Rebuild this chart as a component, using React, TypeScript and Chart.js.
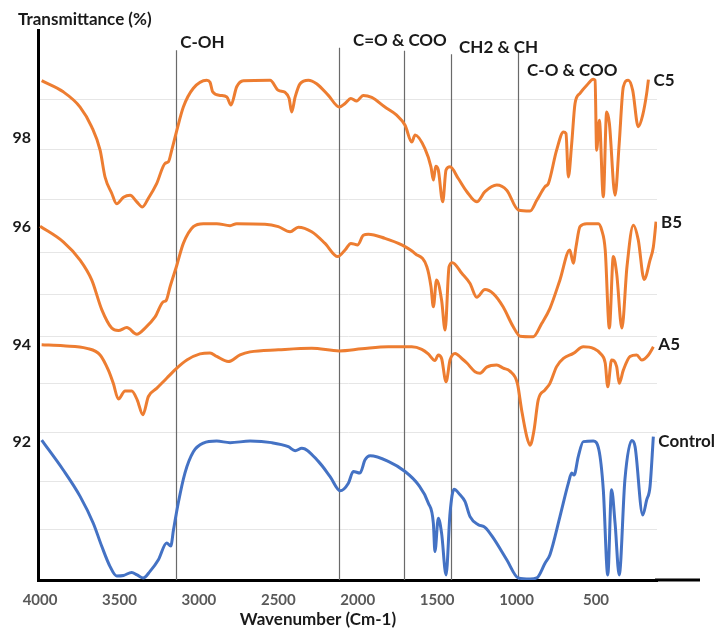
import React, { useEffect, useRef } from 'react';
import { Chart, registerables } from 'chart.js';

Chart.register(...registerables);

const ORANGE = '#ED7D31';
const BLUE = '#4472C4';

// x axis (wavenumber, cm-1) and y axis (transmittance, %)
const X_MIN = 116;
const X_MAX = 4013;
const Y_MIN = 89.27;
const Y_MAX = 100.12;
const xTickValues = [4000, 3500, 3000, 2500, 2000, 1500, 1000, 500];
const yTickValues = [98, 96.24, 93.91, 92];
const yTickLabels = ['98', '96', '94', '92'];
const yGridValues = [98.75, 97.76, 96.78, 95.73, 94.91, 94.07, 93.15, 92.17, 91.21, 90.26];

// band markers
const bandLines = [3144, 2116, 1711, 1415, 989];
const bandLineTops = [99.72, 99.77, 99.71, 99.64, 99.72];
const bandLabels = ['C-OH', 'C=O & COO', 'CH2 & CH', 'C-O & COO'];
const bandLabelX = [3118, 2030, 1362, 934];
const bandLabelY = [99.88, 99.92, 99.77, 99.33];

const seriesNames = ['C5', 'B5', 'A5', 'Control'];
const seriesLabelY = [99.12, 96.33, 93.91, 92.0];

const c5Points: [number, number][] = [
  [3990, 99.12], [3854, 98.9], [3748, 98.6], [3675, 98.21], [3622, 97.75], [3591, 97.22], [3549, 96.9],
  [3518, 96.69], [3475, 96.82], [3433, 96.86], [3391, 96.73], [3356, 96.63], [3318, 96.8], [3266, 97.09],
  [3213, 97.49], [3192, 97.52], [3171, 97.75], [3139, 98.14], [3098, 98.6], [3035, 98.97], [2951, 99.13],
  [2930, 99.09], [2913, 98.9], [2866, 98.83], [2824, 98.8], [2798, 98.64], [2762, 99.0], [2720, 99.12],
  [2552, 99.13], [2500, 98.93], [2458, 98.89], [2432, 98.77], [2416, 98.5], [2394, 98.8], [2363, 99.06],
  [2311, 99.13], [2259, 99.06], [2185, 98.83], [2116, 98.6], [2080, 98.67], [2043, 98.77], [2007, 98.72],
  [1965, 98.83], [1912, 98.79], [1829, 98.6], [1755, 98.44], [1702, 98.24], [1660, 97.91], [1639, 98.05],
  [1577, 97.78], [1539, 97.42], [1524, 97.16], [1509, 97.43], [1493, 97.36], [1465, 96.73], [1444, 97.36],
  [1419, 97.42], [1367, 97.19], [1313, 96.93], [1251, 96.73], [1199, 96.93], [1125, 97.06], [1062, 96.96],
  [989, 96.57], [915, 96.55], [873, 96.76], [821, 97.03], [800, 97.09], [748, 97.75], [705, 98.11],
  [689, 98.08], [674, 97.22], [653, 97.88], [632, 98.67], [601, 98.87], [558, 99.03], [517, 99.15],
  [506, 99.13], [496, 97.75], [479, 98.34], [454, 96.83], [433, 98.5], [416, 98.28], [380, 96.86],
  [354, 97.88], [328, 99.0], [297, 99.13], [269, 98.93], [234, 98.21], [206, 98.44], [181, 98.87], [170, 99.14],
];

const b5Points: [number, number][] = [
  [4000, 96.25], [3854, 95.94], [3748, 95.58], [3675, 95.19], [3611, 94.6], [3549, 94.24], [3507, 94.19],
  [3454, 94.25], [3391, 94.12], [3339, 94.24], [3276, 94.46], [3224, 94.76], [3207, 94.78], [3181, 95.06],
  [3139, 95.48], [3098, 95.91], [3035, 96.24], [2972, 96.3], [2888, 96.3], [2804, 96.26], [2762, 96.3],
  [2584, 96.29], [2500, 96.24], [2426, 96.14], [2374, 96.23], [2290, 96.14], [2206, 95.91], [2126, 95.65],
  [2080, 95.78], [2043, 95.91], [2000, 95.88], [1965, 96.07], [1933, 96.09], [1829, 96.01], [1723, 95.88],
  [1639, 95.71], [1565, 95.45], [1539, 95.06], [1524, 94.66], [1504, 95.19], [1472, 94.79], [1450, 94.2],
  [1425, 95.45], [1404, 95.53], [1345, 95.32], [1293, 95.12], [1251, 94.85], [1199, 95.0], [1147, 94.92],
  [1085, 94.66], [1022, 94.27], [978, 94.08], [895, 94.07], [842, 94.33], [790, 94.63], [727, 95.19],
  [665, 95.78], [643, 95.52], [626, 95.84], [601, 96.24], [558, 96.3], [485, 96.3], [464, 96.17],
  [442, 95.78], [416, 94.24], [391, 95.65], [370, 95.32], [337, 94.24], [305, 95.45], [265, 96.27],
  [234, 95.98], [197, 95.2], [160, 95.58], [139, 95.84], [122, 96.34],
];

const a5Points: [number, number][] = [
  [3990, 93.91], [3854, 93.89], [3706, 93.84], [3622, 93.71], [3570, 93.41], [3539, 93.15], [3507, 92.84],
  [3465, 93.0], [3423, 93.0], [3388, 92.82], [3353, 92.53], [3318, 92.89], [3266, 93.05], [3203, 93.25],
  [3139, 93.45], [3076, 93.61], [2993, 93.73], [2930, 93.75], [2888, 93.68], [2815, 93.58], [2741, 93.71],
  [2678, 93.77], [2500, 93.81], [2290, 93.84], [2116, 93.79], [1975, 93.83], [1808, 93.87], [1660, 93.87],
  [1597, 93.82], [1556, 93.73], [1514, 93.6], [1493, 93.71], [1472, 93.64], [1444, 93.18], [1419, 93.61],
  [1387, 93.74], [1345, 93.64], [1313, 93.55], [1262, 93.38], [1230, 93.35], [1188, 93.47], [1125, 93.51],
  [1084, 93.45], [1042, 93.39], [995, 93.15], [968, 92.62], [936, 92.1], [915, 91.93], [890, 92.23],
  [864, 92.82], [821, 93.02], [790, 93.15], [748, 93.48], [705, 93.64], [643, 93.74], [580, 93.87],
  [517, 93.84], [464, 93.71], [442, 93.55], [426, 93.08], [402, 93.61], [370, 93.48], [354, 93.15],
  [328, 93.41], [286, 93.68], [244, 93.71], [212, 93.61], [170, 93.71], [139, 93.87],
];

const controlPoints: [number, number][] = [
  [3990, 92.03], [3854, 91.44], [3748, 90.92], [3665, 90.39], [3611, 89.93], [3560, 89.54], [3518, 89.35],
  [3475, 89.36], [3423, 89.42], [3389, 89.37], [3350, 89.31], [3308, 89.44], [3255, 89.67], [3203, 90.0],
  [3177, 89.94], [3160, 90.26], [3130, 90.79], [3088, 91.38], [3035, 91.8], [2972, 91.97], [2888, 92.01],
  [2804, 91.98], [2678, 92.01], [2542, 91.98], [2437, 91.9], [2394, 91.82], [2352, 91.87], [2248, 91.61],
  [2174, 91.31], [2111, 91.03], [2059, 91.18], [2028, 91.41], [1986, 91.38], [1954, 91.64], [1922, 91.72],
  [1808, 91.61], [1702, 91.41], [1619, 91.15], [1556, 90.79], [1524, 90.39], [1514, 89.83], [1493, 90.49],
  [1472, 90.19], [1444, 89.37], [1419, 90.59], [1394, 91.06], [1356, 90.95], [1325, 90.82], [1293, 90.52],
  [1241, 90.36], [1199, 90.31], [1147, 90.1], [1062, 89.67], [989, 89.31], [915, 89.29], [873, 89.31],
  [821, 89.6], [790, 89.77], [727, 90.52], [674, 91.18], [653, 91.38], [638, 91.34], [612, 91.7],
  [580, 92.0], [517, 92.01], [482, 91.84], [454, 91.05], [426, 89.37], [402, 91.05], [380, 90.39],
  [354, 89.37], [318, 91.25], [275, 92.02], [254, 91.9], [206, 90.55], [181, 90.85], [160, 91.11], [139, 92.1],
];

const isLabelTick = (v: number | undefined) =>
  v !== undefined && yTickValues.some((t) => Math.abs(t - v) < 1e-6);
const labelFor = (v: number) => {
  const i = yTickValues.findIndex((t) => Math.abs(t - v) < 1e-6);
  return i >= 0 ? yTickLabels[i] : '';
};

const overlay = {
  id: 'overlay',
  beforeDatasetsDraw(chart: any) {
    const { ctx, chartArea } = chart;
    const x = chart.scales.x;
    const y = chart.scales.y;
    ctx.save();
    ctx.strokeStyle = '#6a6a6a';
    ctx.lineWidth = 1.2;
    bandLines.forEach((w, i) => {
      const px = Math.round(x.getPixelForValue(w)) + 0.5;
      ctx.beginPath();
      ctx.moveTo(px, y.getPixelForValue(bandLineTops[i]));
      ctx.lineTo(px, chartArea.bottom);
      ctx.stroke();
    });
    ctx.restore();
  },
  afterDraw(chart: any) {
    const { ctx, chartArea } = chart;
    const x = chart.scales.x;
    const y = chart.scales.y;
    ctx.save();
    // bottom axis extension
    ctx.strokeStyle = '#000';
    ctx.lineWidth = 3;
    ctx.beginPath();
    ctx.moveTo(chartArea.right - 2, chartArea.bottom);
    ctx.lineTo(700, chartArea.bottom);
    ctx.stroke();

    ctx.fillStyle = '#1a1a1a';
    ctx.textBaseline = 'middle';
    ctx.textAlign = 'left';
    ctx.font = 'bold 17px Lato';
    ctx.fillText('Transmittance (%)', 18, 20);
    bandLabels.forEach((t, i) => {
      ctx.fillText(t, x.getPixelForValue(bandLabelX[i]), y.getPixelForValue(bandLabelY[i]));
    });
    const allSeries = [c5Points, b5Points, a5Points, controlPoints];
    seriesNames.forEach((n, i) => {
      const pts = allSeries[i];
      const last = pts[pts.length - 1];
      ctx.fillText(n, x.getPixelForValue(last[0]) + 5, y.getPixelForValue(seriesLabelY[i]));
    });
    ctx.textAlign = 'center';
    ctx.font = 'bold 17px Lato';
    ctx.fillText('Wavenumber (Cm-1)', 318, 620);
    ctx.restore();
  },
};

export default function App() {
  const ref = useRef<HTMLCanvasElement>(null);
  useEffect(() => {
    const canvas = ref.current;
    if (!canvas) return;
    Chart.defaults.font.family = 'Lato';
    const mk = (label: string, pts: [number, number][], color: string) => ({
      label,
      data: pts.map(([a, b]) => ({ x: a, y: b })),
      borderColor: color,
      backgroundColor: color,
      borderWidth: 3,
      pointRadius: 0,
      fill: false,
      cubicInterpolationMode: 'monotone' as const,
    });
    const chart = new Chart(canvas, {
      type: 'line',
      data: {
        datasets: [
          mk('C5', c5Points, ORANGE),
          mk('B5', b5Points, ORANGE),
          mk('A5', a5Points, ORANGE),
          mk('Control', controlPoints, BLUE),
        ],
      },
      options: {
        responsive: false,
        animation: false,
        layout: { padding: { left: 0, top: 30, right: 63, bottom: 0 } },
        plugins: {
          legend: { display: false },
          tooltip: { enabled: false },
          title: { display: false },
        },
        scales: {
          x: {
            type: 'linear',
            reverse: true,
            min: X_MIN,
            max: X_MAX,
            afterBuildTicks: (s: any) => {
              s.ticks = xTickValues.map((v) => ({ value: v }));
            },
            afterFit: (s: any) => {
              s.height = 53;
            },
            grid: { display: false, drawTicks: false },
            border: { display: true, color: '#000', width: 3 },
            ticks: {
              padding: 11,
              color: '#595959',
              autoSkip: false,
              maxRotation: 0,
              font: { size: 15, weight: 'bold' },
              callback: (v: any) => String(v),
            },
          },
          y: {
            type: 'linear',
            min: Y_MIN,
            max: Y_MAX,
            afterBuildTicks: (s: any) => {
              s.ticks = [...yGridValues, ...yTickValues].sort((a, b) => a - b).map((v) => ({ value: v }));
            },
            afterFit: (s: any) => {
              s.width = 38;
            },
            grid: {
              drawTicks: false,
              lineWidth: 1,
              color: (c: any) => (isLabelTick(c.tick ? c.tick.value : undefined) ? 'rgba(0,0,0,0)' : '#e6e6e6'),
            },
            border: { display: true, color: '#000', width: 3 },
            ticks: {
              padding: 7,
              autoSkip: false,
              color: '#1a1a1a',
              font: { size: 16, weight: 'bold' },
              callback: (v: any) => labelFor(Number(v)),
            },
          },
        },
      },
      plugins: [overlay],
    });
    return () => chart.destroy();
  }, []);
  return (
    <div style={{ position: 'fixed', left: 0, top: 0, width: 720, height: 633, background: '#fff' }}>
      <canvas ref={ref} width={720} height={633} style={{ display: 'block' }} />
    </div>
  );
}
